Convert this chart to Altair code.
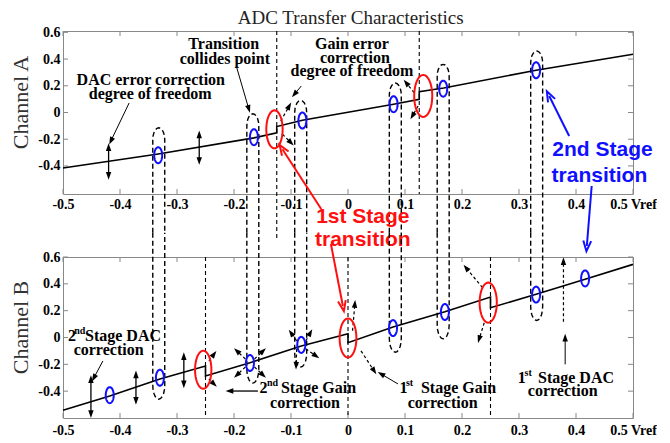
import math
import numpy as np
import pandas as pd
import altair as alt

# ---------------- data ----------------
x_ticks = [-0.5, -0.4, -0.3, -0.2, -0.1, 0.0, 0.1, 0.2, 0.3, 0.4, 0.5]
y_ticks = [-0.4, -0.2, 0.0, 0.2, 0.4, 0.6]

# Channel A transfer characteristic
chan_a_x = [-0.5, -0.333, -0.165, -0.125, -0.125, -0.08, 0.08, 0.125, 0.125, 0.168, 0.33, 0.5]
chan_a_y = [-0.415, -0.31, -0.19, -0.152, -0.105, -0.058, 0.062, 0.099, 0.156, 0.183, 0.316, 0.436]
# Channel B transfer characteristic
chan_b_x = [-0.5, -0.418, -0.33, -0.25, -0.25, -0.172, -0.082, 0.0, 0.0, 0.079, 0.17, 0.25, 0.25, 0.33, 0.416, 0.5]
chan_b_y = [-0.543, -0.436, -0.31, -0.212, -0.287, -0.188, -0.063, 0.028, -0.039, 0.078, 0.192, 0.302, 0.222, 0.322, 0.434, 0.545]

# 2nd stage transitions (blue)
blue_a_x = [-0.333, -0.165, -0.08, 0.08, 0.167, 0.33]
blue_a_y = [-0.32, -0.185, -0.06, 0.062, 0.178, 0.316]
blue_b_x = [-0.418, -0.33, -0.172, -0.082, 0.079, 0.17, 0.33, 0.416]
blue_b_y = [-0.43, -0.30, -0.19, -0.055, 0.07, 0.19, 0.32, 0.44]
# 1st stage transitions (red)
red_a_x = [-0.129, 0.132]
red_a_y = [-0.126, 0.124]
red_b_x = [-0.254, 0.0, 0.246]
red_b_y = [-0.24, -0.004, 0.26]

# dashed vertical lines
vline_a_x = [-0.125, 0.125]
vline_a_end = [-0.95, -0.61]
vline_b_x = [-0.25, 0.0, 0.25]

# dashed loops linking channel A and channel B transitions
loop_x = [-0.332, -0.167, -0.083, 0.083, 0.167, 0.331]
loop_peak_a = [-0.114, -0.01, 0.09, 0.22, 0.36, 0.46]
loop_bottom_b = [-0.46, -0.34, -0.22, -0.11, -0.01, 0.127]

# ---------------- layout constants ----------------
W = 570
HA, HB = 163, 161
DOM_A, DOM_B = [-0.61, 0.61], [-0.6, 0.6]
KA = HA / (DOM_A[1] - DOM_A[0])
KB = HB / (DOM_B[1] - DOM_B[0])
SERIF = "Liberation Serif"
SANS = "Liberation Sans"
RED = "#ff1010"
BLUE = "#1010ff"


def ellipse_path(ratio, n=48):
    pts = []
    for i in range(n):
        t = 2 * math.pi * i / n
        pts.append(f"{ratio * math.cos(t):.4f},{math.sin(t):.4f}")
    return "M" + "L".join(pts) + "Z"


V_HEAD = "M-0.75,1L0,-1L0.75,1"

LABEL_STYLE = dict(labelFont=SERIF, labelFontWeight="bold", labelFontSize=14, labelColor="black",
                   labelOverlap=False, labelFlush=False, ticks=False, domain=False, grid=False)


def build_panel(line_x, line_y, bx, by, rx, ry, rh, vx, vy0, vy1, loops, arrows, texts,
                dom, height, k, title, title_y, x_label_pad):
    xaxis = alt.Axis(values=x_ticks, labelPadding=x_label_pad,
                     labelExpr="datum.value == 0.5 ? '0.5 Vref' : '' + datum.value",
                     **LABEL_STYLE)
    yaxis = alt.Axis(values=y_ticks, labelExpr="'' + datum.value", labelPadding=3,
                     titleX=-36, titleY=title_y, titleBaseline="alphabetic",
                     titleAngle=270, titleFont=SERIF, titleFontWeight="normal",
                     titleFontSize=22, titleColor="#333", **LABEL_STYLE)
    xenc = alt.X("x:Q", scale=alt.Scale(domain=[-0.5, 0.5], nice=False, zero=False),
                 title=None, axis=xaxis)
    yenc = alt.Y("y:Q", scale=alt.Scale(domain=dom, nice=False, zero=False),
                 title=title, axis=yaxis)

    # inward ticks
    tl = 5.0
    trows = []
    for v in x_ticks:
        trows.append({"x": v, "y": dom[0], "x2": v, "y2": dom[0] + tl / k})
        trows.append({"x": v, "y": dom[1], "x2": v, "y2": dom[1] - tl / k})
    for v in y_ticks:
        trows.append({"x": -0.5, "y": v, "x2": -0.5 + tl / W, "y2": v})
        trows.append({"x": 0.5, "y": v, "x2": 0.5 - tl / W, "y2": v})
    ticks = alt.Chart(pd.DataFrame(trows)).mark_rule(color="#888", strokeWidth=1).encode(
        x=xenc, y=yenc, x2="x2:Q", y2="y2:Q")

    vl = alt.Chart(pd.DataFrame({"x": vx, "y": vy0, "y2": vy1})).mark_rule(
        color="black", strokeWidth=1.1, strokeDash=[4, 3]).encode(x=xenc, y=yenc, y2="y2:Q")

    loops_l = alt.Chart(pd.DataFrame(loops)).mark_line(
        color="black", strokeWidth=1.4, strokeDash=[5, 3]).encode(
        x=xenc, y=yenc, detail="id:N", order="o:Q")

    main = alt.Chart(pd.DataFrame({"x": line_x, "y": line_y, "o": range(len(line_x))})).mark_line(
        color="black", strokeWidth=1.6).encode(x=xenc, y=yenc, order="o:Q")

    blue = alt.Chart(pd.DataFrame({"x": bx, "y": by})).mark_point(
        shape=ellipse_path(0.5), size=16 * 16, filled=False, color=BLUE, strokeWidth=2,
        opacity=1).encode(x=xenc, y=yenc)

    red = alt.Chart(pd.DataFrame({"x": rx, "y": ry, "s": [h * h for h in rh]})).mark_point(
        shape=ellipse_path(0.43), filled=False, color=RED, strokeWidth=2, opacity=1).encode(
        x=xenc, y=yenc, size=alt.Size("s:Q", scale=None))

    # arrows
    seg_rows, head_rows = [], []
    for i, a in enumerate(arrows):
        x0, y0, x1, y1, col, wdt, dash, head = a
        grp = f"{i}"
        seg_rows.append({"id": grp, "x": x0, "y": y0, "o": 0, "c": col, "w": wdt, "d": dash})
        seg_rows.append({"id": grp, "x": x1, "y": y1, "o": 1, "c": col, "w": wdt, "d": dash})
        ang = math.degrees(math.atan2((x1 - x0) * W, (y1 - y0) * k)) % 360
        if head in ("tri", "both"):
            head_rows.append({"x": x1, "y": y1, "a": ang, "c": col, "kind": "tri"})
        if head == "both":
            head_rows.append({"x": x0, "y": y0, "a": (ang + 180) % 360, "c": col, "kind": "tri"})
        if head == "v":
            head_rows.append({"x": x1, "y": y1, "a": ang, "c": col, "kind": "v"})
    seg = pd.DataFrame(seg_rows)
    heads = pd.DataFrame(head_rows)
    solid = alt.Chart(seg[seg["d"] == 0]).mark_line().encode(
        x=xenc, y=yenc, detail="id:N", order="o:Q",
        color=alt.Color("c:N", scale=None), strokeWidth=alt.StrokeWidth("w:Q", scale=None))
    dashed = alt.Chart(seg[seg["d"] == 1]).mark_line(strokeDash=[3, 2.5]).encode(
        x=xenc, y=yenc, detail="id:N", order="o:Q",
        color=alt.Color("c:N", scale=None), strokeWidth=alt.StrokeWidth("w:Q", scale=None))
    tri = alt.Chart(heads[heads["kind"] == "tri"]).mark_point(
        shape="M0,-1L0.7,1L-0.7,1Z", size=60, filled=True, opacity=1).encode(
        x=xenc, y=yenc, angle=alt.Angle("a:Q", scale=None),
        color=alt.Color("c:N", scale=None))
    vh = alt.Chart(heads[heads["kind"] == "v"]).mark_point(
        shape=V_HEAD, size=110, filled=False, strokeWidth=2, opacity=1).encode(
        x=xenc, y=yenc, angle=alt.Angle("a:Q", scale=None),
        color=alt.Color("c:N", scale=None))

    tdf = pd.DataFrame(texts, columns=["t", "x", "y", "s", "style"])
    txt_serif = alt.Chart(tdf[tdf["style"] == "serif"]).mark_text(
        font=SERIF, fontWeight="bold", color="black", baseline="middle", align="center").encode(
        x=xenc, y=yenc, text="t:N", size=alt.Size("s:Q", scale=None))
    txt_red = alt.Chart(tdf[tdf["style"] == "red"]).mark_text(
        font=SANS, fontWeight="bold", color=RED, baseline="middle", align="center").encode(
        x=xenc, y=yenc, text="t:N", size=alt.Size("s:Q", scale=None))
    txt_blue = alt.Chart(tdf[tdf["style"] == "blue"]).mark_text(
        font=SANS, fontWeight="bold", color=BLUE, baseline="middle", align="center").encode(
        x=xenc, y=yenc, text="t:N", size=alt.Size("s:Q", scale=None))

    layers = [ticks, vl, loops_l, main, solid, dashed, tri, vh, blue, red]
    layers += [txt_serif, txt_red, txt_blue]
    return alt.layer(*layers).properties(width=W, height=height)


def loop_rows(part):
    rows = []
    hw = 0.0105
    for j, xc in enumerate(loop_x):
        if part == "a":
            cap = 12 / KA
            top = loop_peak_a[j] - cap
            pts = [(xc - hw, -0.9), (xc - hw, top)]
            for t in np.linspace(math.pi, 0, 11):
                pts.append((xc + hw * math.cos(t), top + cap * math.sin(t)))
            pts.append((xc + hw, -0.9))
        else:
            cap = 14 / KB
            bot = loop_bottom_b[j] + cap
            pts = [(xc - hw, 0.78), (xc - hw, bot)]
            for t in np.linspace(math.pi, 2 * math.pi, 11):
                pts.append((xc + hw * math.cos(t), bot + cap * math.sin(t)))
            pts.append((xc + hw, 0.78))
        for o, (px, py) in enumerate(pts):
            rows.append({"id": j, "o": o, "x": px, "y": py})
    return rows


K = "black"
arrows_a = [
    (-0.384, 0.071, -0.416, -0.213, K, 1, 0, "tri"),
    (-0.42, -0.26, -0.42, -0.475, K, 1.3, 0, "both"),
    (-0.261, -0.163, -0.261, -0.363, K, 1.3, 0, "both"),
    (-0.196, 0.348, -0.174, 0.026, K, 1, 0, "tri"),
    (-0.118, -0.064, -0.103, 0.049, K, 1.2, 1, "tri"),
    (-0.115, -0.163, -0.1, -0.226, K, 1.2, 1, "tri"),
    (-0.082, 0.198, -0.094, 0.136, K, 1, 0, "tri"),
    (0.116, 0.148, 0.102, 0.223, K, 1.2, 1, "tri"),
    (0.123, 0.049, 0.113, -0.026, K, 1.2, 1, "tri"),
    (0.388, -0.176, 0.353, 0.124, BLUE, 2, 0, "v"),
    (-0.047, -0.722, -0.115, -0.275, RED, 2, 0, "v"),
]
arrows_b = [
    (0.4275, 1.129, 0.419, 0.682, BLUE, 2, 0, "v"),
    (-0.03, 0.697, -0.009, 0.235, RED, 2, 0, "v"),
    (-0.43, -0.175, -0.446, -0.302, K, 1, 0, "tri"),
    (-0.451, -0.311, -0.451, -0.572, K, 1.3, 0, "both"),
    (-0.372, -0.274, -0.372, -0.473, K, 1.3, 0, "both"),
    (-0.288, -0.138, -0.288, -0.349, K, 1.3, 0, "both"),
    (-0.158, -0.399, -0.208, -0.399, K, 1.3, 0, "tri"),
    (0.0877, -0.346, 0.058, -0.272, K, 1, 0, "tri"),
    (0.0228, -0.10, 0.046, -0.25, K, 1.2, 1, "tri"),
    (0.008, 0.05, 0.012, 0.25, K, 1.2, 1, "tri"),
    (0.236, 0.371, 0.207, 0.52, K, 1.2, 1, "tri"),
    (0.239, 0.11, 0.230, -0.013, K, 1.2, 1, "tri"),
    (0.378, 0.118, 0.378, 0.57, K, 1.2, 1, "tri"),
    (0.381, -0.2, 0.381, -0.001, K, 1, 0, "tri"),
    (-0.244, -0.175, -0.235, -0.123, K, 1.2, 1, "tri"),
    (-0.244, -0.309, -0.235, -0.347, K, 1.2, 1, "tri"),
    (-0.18, -0.16, -0.195, -0.10, K, 1.2, 1, "tri"),
    (-0.164, -0.16, -0.149, -0.10, K, 1.2, 1, "tri"),
    (-0.18, -0.22, -0.195, -0.28, K, 1.2, 1, "tri"),
    (-0.164, -0.22, -0.149, -0.28, K, 1.2, 1, "tri"),
    (-0.09, -0.025, -0.10, 0.035, K, 1.2, 1, "tri"),
    (-0.074, -0.025, -0.066, 0.036, K, 1.2, 1, "tri"),
    (-0.09, -0.085, -0.091, -0.21, K, 1.2, 1, "tri"),
    (-0.074, -0.085, -0.056, -0.138, K, 1.2, 1, "tri"),
]

texts_a = [
    ("DAC error correction", -0.346, 0.243, 16, "serif"),
    ("degree of freedom", -0.347, 0.138, 16, "serif"),
    ("Transition", -0.218, 0.513, 16, "serif"),
    ("collides point", -0.216, 0.40, 16, "serif"),
    ("Gain error", 0.007, 0.513, 16, "serif"),
    ("correction", 0.012, 0.408, 16, "serif"),
    ("degree of freedom", 0.007, 0.311, 16, "serif"),
    ("1st Stage", 0.026, -0.785, 21, "red"),
    ("transition", 0.026, -0.955, 21, "red"),
    ("2nd Stage", 0.4465, -0.283, 21, "blue"),
    ("transition", 0.441, -0.478, 21, "blue"),
]
texts_b = [
    ("2", -0.484, 0.011, 16, "serif"),
    ("nd", -0.4707, 0.048, 10, "serif"),
    ("Stage DAC", -0.3947, 0.011, 16, "serif"),
    ("correction", -0.420, -0.095, 16, "serif"),
    ("2", -0.1482, -0.374, 16, "serif"),
    ("nd", -0.1325, -0.337, 10, "serif"),
    ("Stage Gain", -0.0518, -0.374, 16, "serif"),
    ("correction", -0.0754, -0.486, 16, "serif"),
    ("1", 0.0974, -0.374, 16, "serif"),
    ("st", 0.108, -0.337, 10, "serif"),
    ("Stage Gain", 0.1939, -0.374, 16, "serif"),
    ("correction", 0.166, -0.486, 16, "serif"),
    ("1", 0.305, -0.300, 16, "serif"),
    ("st", 0.316, -0.262, 10, "serif"),
    ("Stage DAC", 0.400, -0.300, 16, "serif"),
    ("correction", 0.3767, -0.399, 16, "serif"),
]

top = build_panel(chan_a_x, chan_a_y, blue_a_x, blue_a_y, red_a_x, red_a_y, [38, 42],
                  vline_a_x, [DOM_A[1]] * 2, vline_a_end, loop_rows("a"), arrows_a, texts_a,
                  DOM_A, HA, KA, "Channel A", 71, 3)
bottom = build_panel(chan_b_x, chan_b_y, blue_b_x, blue_b_y, red_b_x, red_b_y, [38, 39, 40],
                     vline_b_x, [DOM_B[1]] * 3, [DOM_B[0]] * 3, loop_rows("b"), arrows_b, texts_b,
                     DOM_B, HB, KB, "Channel B", 70, 5)

chart = alt.vconcat(top, bottom, spacing=63, bounds="flush").resolve_scale(
    x="independent", y="independent"
).properties(
    title=alt.TitleParams("ADC Transfer Characteristics", font=SERIF, fontSize=19,
                          fontWeight="normal", color="#222", anchor="middle",
                          baseline="alphabetic", offset=-18, dx=18),
    padding={"left": 0, "top": 0, "right": 0, "bottom": 0},
).configure_view(stroke="#888", strokeWidth=1).configure_axis(
    labelOverlap=False, labelFlush=False, labelFont=SERIF, labelFontWeight="bold",
    labelFontSize=14, labelColor="black")

chart.save("out.html", embed_options={"renderer": "svg", "actions": False})
